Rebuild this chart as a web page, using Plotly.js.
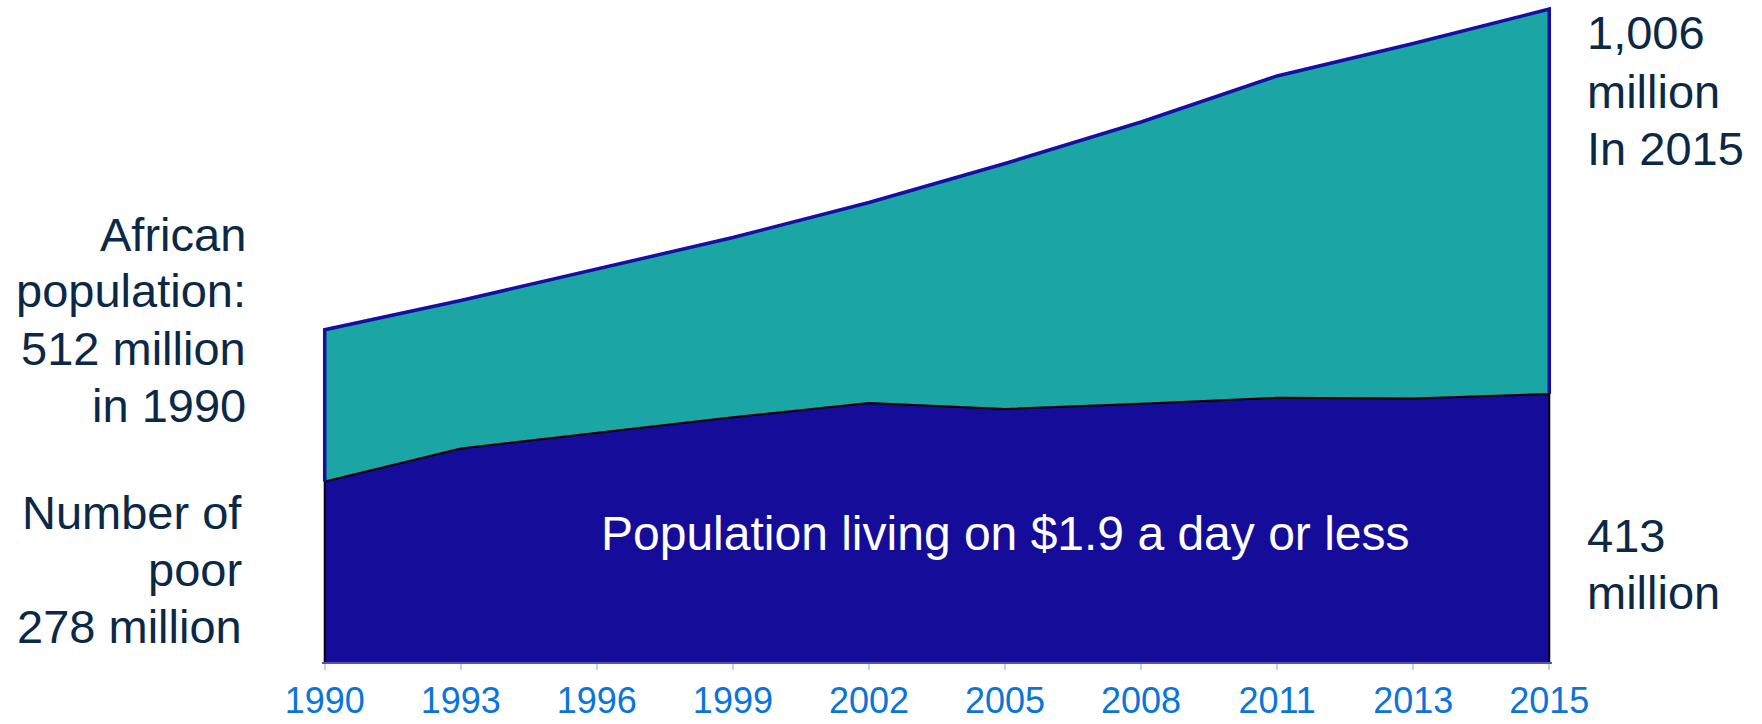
<!DOCTYPE html>
<html><head><meta charset="utf-8">
<script src="https://cdn.plot.ly/plotly-3.0.1.min.js"></script>
<style>html,body{margin:0;padding:0;background:#fff;overflow:hidden}#chart{width:1762px;height:724px;}</style>
</head><body><div id="chart"></div>
<script>
// ---- data ----
const years = ['1990','1993','1996','1999','2002','2005','2008','2011','2013','2015'];
const totalPopulation = [512, 557, 605, 654, 708, 768, 832, 903, 953, 1006];
const poorPopulation  = [278, 329, 353, 377, 399, 390, 398, 407, 406, 413];
const leftTopLines    = ['African', 'population:', '512 million', 'in 1990'];
const leftBottomLines = ['Number of', 'poor', '278 million'];
const rightTopLines   = ['1,006', 'million', 'In 2015'];
const rightBottomLines= ['413', 'million'];
const centerLabel     = 'Population living on $1.9 a day or less';

// ---- layout geometry ----
const W = 1762, H = 724;
const M = {l: 322, r: 210, t: 0, b: 62};
const PW = W - M.l - M.r, PH = H - M.t - M.b;
const px = x => (x - M.l) / PW;
const py = y => (H - M.b - y) / PH;

const TEAL = '#1CA5A5', DARK = '#150C9A', EDGE = '#1A0DA2', NAVY = '#0B2846';
const TXT_FONT = 'Liberation Sans, Arial, Helvetica, sans-serif';

const first = years[0], last = years[years.length - 1];

const traces = [
  { // teal: total population
    x: years, y: totalPopulation, type: 'scatter', mode: 'none',
    fill: 'tozeroy', fillcolor: TEAL, hoverinfo: 'skip', showlegend: false
  },
  { // dark: poor population with black outline incl. side edges
    x: [first, ...years, last], y: [0, ...poorPopulation, 0], type: 'scatter', mode: 'lines',
    fill: 'tozeroy', fillcolor: DARK, line: {color: '#000000', width: 2},
    hoverinfo: 'skip', showlegend: false
  },
  { // blue outline of the teal band
    x: [first, ...years, last],
    y: [poorPopulation[0], ...totalPopulation, poorPopulation[poorPopulation.length - 1]],
    type: 'scatter', mode: 'lines', line: {color: EDGE, width: 3.5},
    hoverinfo: 'skip', showlegend: false
  }
];

function ann(text, x, y, xanchor, color, size) {
  return {xref: 'paper', yref: 'paper', x: px(x), y: py(y), text: text, showarrow: false,
    xanchor: xanchor, yanchor: 'middle', font: {family: TXT_FONT, size: size || 47, color: color || NAVY}};
}
const annotations = [];
const ltY = [234, 291, 348, 405.5];
leftTopLines.forEach((t, i) => annotations.push(ann(t, 248, ltY[i], 'right')));
const lbY = [512, 569, 626.5];
leftBottomLines.forEach((t, i) => annotations.push(ann(t, 244, lbY[i], 'right')));
const rtY = [33, 91, 148];
rightTopLines.forEach((t, i) => annotations.push(ann(t, 1585, rtY[i], 'left')));
const rbY = [535.7, 592.3];
rightBottomLines.forEach((t, i) => annotations.push(ann(t, 1585, rbY[i], 'left')));
annotations.push(ann(centerLabel, 1005, 533, 'center', '#FFFFFF', 48));

const layout = {
  width: W, height: H, margin: M,
  paper_bgcolor: '#ffffff', plot_bgcolor: '#ffffff',
  showlegend: false,
  xaxis: {
    type: 'category', range: [-0.02, years.length - 1 + 0.02],
    showgrid: false, zeroline: false,
    showline: true, linecolor: '#5656B0', linewidth: 2,
    ticks: 'outside', ticklen: 6, tickwidth: 2, tickcolor: '#B8D6F6',
    tickfont: {family: TXT_FONT, size: 36, color: '#0A74DC'},
    fixedrange: true
  },
  yaxis: {
    range: [0, 1020], visible: false, showgrid: false, zeroline: false, fixedrange: true
  },
  annotations: annotations
};

Plotly.newPlot('chart', traces, layout, {displayModeBar: false, staticPlot: true});
</script>
</body></html>
